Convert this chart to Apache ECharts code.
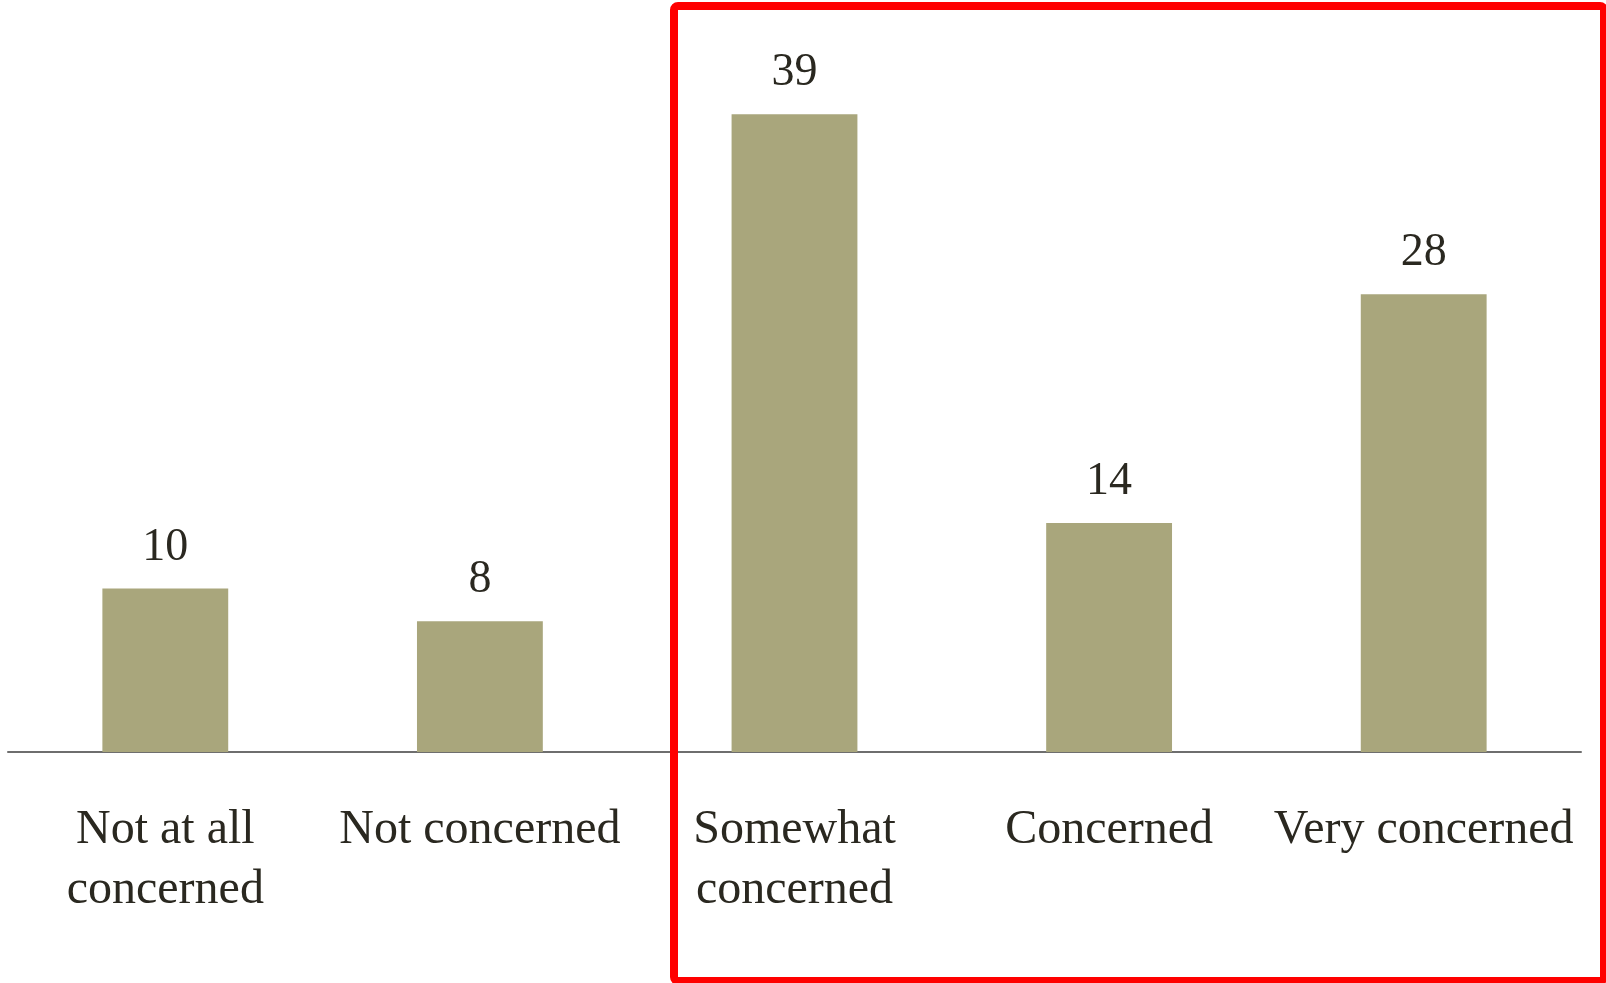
<!DOCTYPE html>
<html>
<head>
<meta charset="utf-8">
<script src="https://cdn.jsdelivr.net/npm/echarts@6/dist/echarts.min.js"></script>
<style>
  html, body { margin: 0; padding: 0; background: #ffffff; }
  #chart { width: 1606px; height: 983px; }
</style>
</head>
<body>
<div id="chart"></div>
<script>
// Level of concern, share of respondents (%)
const categories = [
  'Not at all\nconcerned',
  'Not concerned',
  'Somewhat\nconcerned',
  'Concerned',
  'Very concerned'
];
const shares = [10, 8, 39, 14, 28];

const FONT = "'Liberation Serif', 'DejaVu Serif', serif";
const TEXT = '#2a2820';

const chart = echarts.init(document.getElementById('chart'));
chart.setOption({
  backgroundColor: '#ffffff',
  animation: false,
  grid: { left: 8, right: 25, top: 98, bottom: 231, containLabel: false },
  xAxis: {
    type: 'category',
    data: categories,
    axisLine: { show: true, lineStyle: { color: '#6e6e6e', width: 2 } },
    axisTick: { show: false },
    axisLabel: {
      interval: 0,
      margin: 48,
      fontFamily: FONT,
      fontSize: 48,
      lineHeight: 60,
      color: TEXT
    }
  },
  yAxis: {
    type: 'value',
    min: 0,
    max: 40,
    show: false,
    splitLine: { show: false }
  },
  series: [{
    type: 'bar',
    data: shares,
    barWidth: '40%',
    itemStyle: { color: '#a9a67c' },
    label: {
      show: true,
      position: 'top',
      distance: 18,
      fontFamily: FONT,
      fontSize: 46,
      color: TEXT
    }
  }],
  graphic: [{
    type: 'rect',
    z: 100,
    shape: { x: 674, y: 6, width: 930, height: 975, r: 4 },
    style: { fill: 'none', stroke: '#ff0000', lineWidth: 8 }
  }]
});
</script>
</body>
</html>
